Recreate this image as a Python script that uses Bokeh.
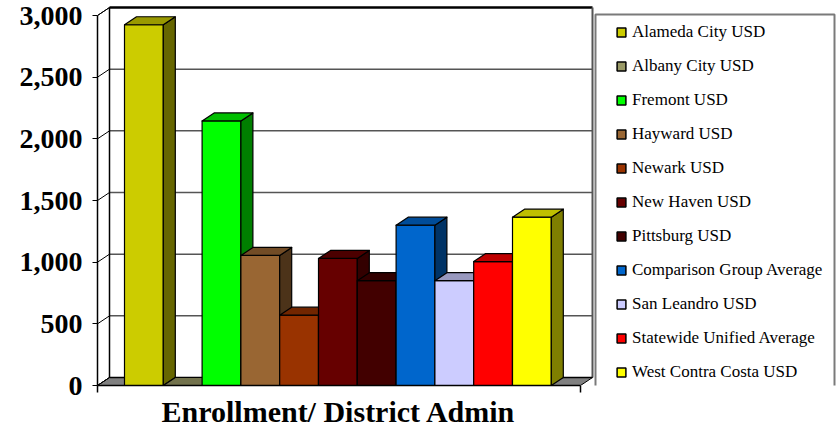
from bokeh.plotting import figure
from bokeh.models import (Range1d, FixedTicker, NumeralTickFormatter, Legend,
                          LegendItem, ColumnDataSource, BoxAnnotation, Title)
from bokeh.embed import file_html
from bokeh.resources import INLINE

# ---------------- data ----------------
districts = ["Alameda City USD", "Albany City USD", "Fremont USD", "Hayward USD",
             "Newark USD", "New Haven USD", "Pittsburg USD",
             "Comparison Group Average", "San Leandro USD",
             "Statewide Unified Average", "West Contra Costa USD"]
values = [2925, 0, 2145, 1055, 570, 1030, 850, 1300, 850, 1005, 1365]
colors = ["#CCCC00", "#999966", "#00FF00", "#996633", "#993300", "#660000",
          "#420000", "#0066CC", "#CCCCFF", "#FF0000", "#FFFF00"]
y_ticks = [0, 500, 1000, 1500, 2000, 2500, 3000]
x_title = "Enrollment/ District Admin"

# ---------------- layout (pixels) ----------------
W, H = 836, 430
FRAME_L, FRAME_B = 97, 45
FRAME_W = W - FRAME_L
FRAME_H = H - FRAME_B
BAR_PX = 38.8          # width of one bar
FIRST_BAR_PX = 27      # first bar offset from frame left
AXIS_END_PX = 483      # end of the front x axis from frame left
TOP_PX = 15            # position of the top tick from frame top
PPU = (FRAME_H - TOP_PX) / y_ticks[-1]
DEPTH_X_PX, DEPTH_Y_PX = 12, 8
TITLE_OFFSET = 64      # title start from frame left

x_start = -FIRST_BAR_PX / BAR_PX
x_end = x_start + FRAME_W / BAR_PX
y_end = FRAME_H / PPU
dx = DEPTH_X_PX / BAR_PX
dy = DEPTH_Y_PX / PPU
xl = x_start
xr = x_start + AXIS_END_PX / BAR_PX
ytop = y_ticks[-1]


def px_x(px):   # canvas pixel -> data x
    return x_start + (px - FRAME_L) / BAR_PX


def px_y(py):   # canvas pixel -> data y
    return (FRAME_H - py) / PPU


def shade(c, f):
    r, g, b = int(c[1:3], 16), int(c[3:5], 16), int(c[5:7], 16)
    return "#%02x%02x%02x" % (int(r * f), int(g * f), int(b * f))


p = figure(width=W, height=H, output_backend="svg", toolbar_location=None,
           x_range=Range1d(x_start, x_end), y_range=Range1d(0, y_end),
           min_border_left=FRAME_L, min_border_right=0,
           min_border_top=0, min_border_bottom=FRAME_B)
p.outline_line_color = None
p.grid.visible = False
p.background_fill_color = "white"

# walls and floor
p.quad(left=[xl + dx], right=[xr + dx], bottom=[dy], top=[ytop + dy],
       fill_color="white", line_color=None)
p.patch([xl, xl + dx, xl + dx, xl], [0, dy, ytop + dy, ytop],
        fill_color="white", line_color="black", line_width=1)
p.patch([xl, xr, xr + dx, xl + dx], [0, 0, dy, dy],
        fill_color="#808080", line_color="black", line_width=1)

grid_vals = y_ticks[1:-1]
p.segment(x0=[xl + dx] * len(grid_vals), x1=[xr + dx] * len(grid_vals),
          y0=[v + dy for v in grid_vals], y1=[v + dy for v in grid_vals],
          line_color="#555555", line_width=1.5)
p.segment(x0=[xl] * len(y_ticks), x1=[xl + dx] * len(y_ticks),
          y0=y_ticks, y1=[v + dy for v in y_ticks],
          line_color="black", line_width=1)
p.segment(x0=[xl + dx, xl + dx, xr + dx, xl + dx],
          x1=[xr + dx, xl + dx, xr + dx, xr + dx],
          y0=[ytop + dy, dy, dy, dy], y1=[ytop + dy, ytop + dy, ytop + dy, dy],
          line_color=["black", "black", "#555555", "black"],
          line_width=[2.5, 1.5, 2, 1.5])

# 3D bars
xs, ys, fills = [], [], []
for i, (v, c) in enumerate(zip(values, colors)):
    a, b = i, i + 1
    xs += [[a, b, b, a], [b, b + dx, b + dx, b], [a, a + dx, b + dx, b]]
    ys += [[0, 0, v, v], [0, dy, v + dy, v], [v, v + dy, v + dy, v]]
    fills += [c, shade(c, 0.5), shade(c, 0.75)]
src = ColumnDataSource(dict(xs=xs, ys=ys, fill=fills))
p.patches("xs", "ys", source=src, fill_color="fill", line_color="black",
          line_width=1.2, line_join="round")

# axes
p.yaxis.ticker = FixedTicker(ticks=y_ticks)
p.yaxis.formatter = NumeralTickFormatter(format="0,0")
p.yaxis.bounds = (0, ytop)
p.yaxis.major_tick_out = 5
p.yaxis.major_tick_in = 0
p.yaxis.minor_tick_out = 0
p.yaxis.minor_tick_in = 0
p.yaxis.major_label_standoff = 10
p.yaxis.major_label_text_font = "Liberation Serif"
p.yaxis.major_label_text_font_style = "bold"
p.yaxis.major_label_text_font_size = "28px"
p.yaxis.major_label_text_color = "black"
p.yaxis.axis_line_width = 1.5
p.yaxis.axis_line_color = "black"

p.xaxis.ticker = FixedTicker(ticks=[], minor_ticks=[xl, xr])
p.xaxis.bounds = (xl, xr)
p.xaxis.major_tick_out = 0
p.xaxis.major_tick_in = 0
p.xaxis.minor_tick_out = 7
p.xaxis.minor_tick_in = 0
p.xaxis.minor_tick_line_color = "black"
p.xaxis.minor_tick_line_width = 1.5
p.xaxis.major_label_standoff = 0
p.xaxis.axis_line_width = 1.5
p.xaxis.axis_line_color = "black"

# category title under the front x axis
p.add_layout(Title(text=x_title, align="left", offset=TITLE_OFFSET,
                   text_font="Liberation Serif", text_font_style="bold",
                   text_font_size="30px", text_color="black", standoff=0),
             "below")

# legend box
box = BoxAnnotation(left=px_x(595), right=px_x(834), top=px_y(14),
                    bottom=px_y(393), fill_color="white", fill_alpha=1,
                    line_color="#7a7a7a", line_width=2, line_alpha=1)
p.add_layout(box)

# legend (swatch renderer has no visible points)
nan = float("nan")
lsrc = ColumnDataSource(dict(x=[nan] * len(colors), y=[nan] * len(colors),
                             c=colors))
lr = p.scatter("x", "y", source=lsrc, marker="square", size=9,
               fill_color="c", line_color="black", line_width=1.5)
items = [LegendItem(label=d, renderers=[lr], index=i) for i, d in enumerate(districts)]
LEG_LEFT, LEG_TOP, ROW_H, ROW_GAP = 610, 21, 22, 12
leg_h = len(districts) * ROW_H + (len(districts) - 1) * ROW_GAP
legend = Legend(items=items,
                location=(LEG_LEFT - FRAME_L, FRAME_H - (LEG_TOP + leg_h)),
                padding=0, margin=0, spacing=ROW_GAP, label_height=ROW_H,
                glyph_height=ROW_H, glyph_width=22, label_standoff=0,
                border_line_color=None, background_fill_alpha=0,
                label_text_font="Liberation Serif", label_text_font_size="17px",
                label_text_color="black")
p.add_layout(legend, "center")

open("out.html", "w").write(file_html(p, INLINE))
